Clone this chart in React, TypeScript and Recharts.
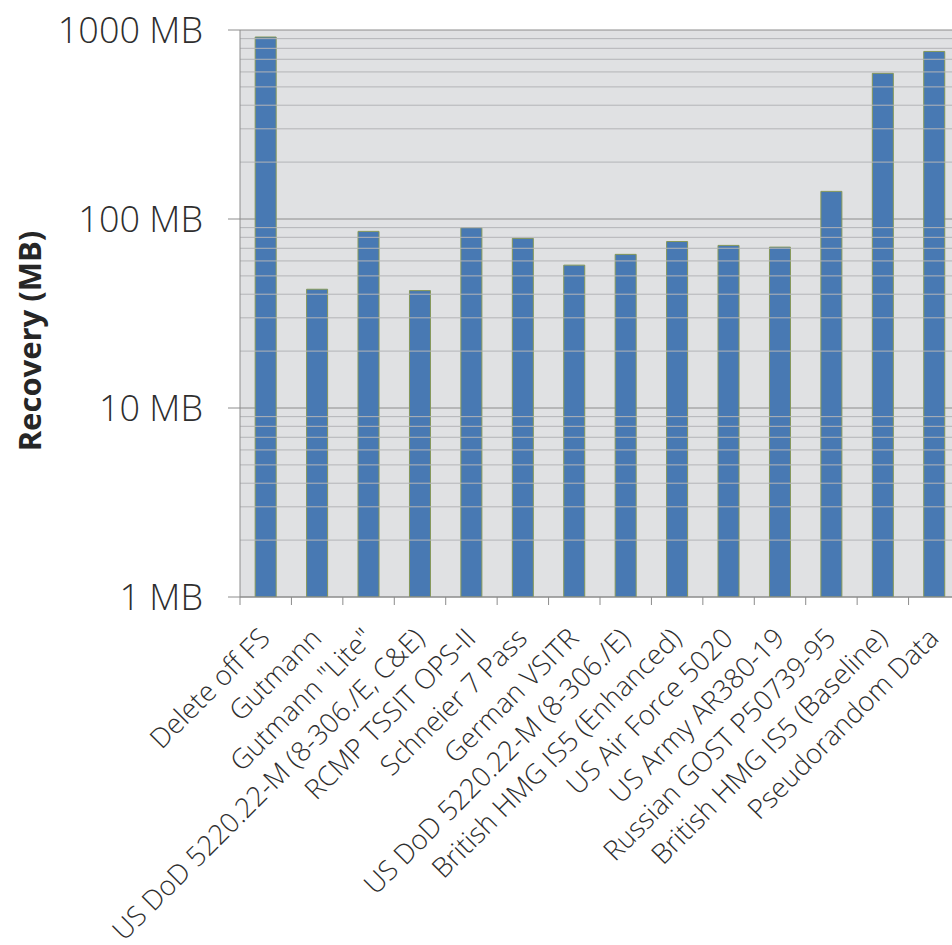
import React from 'react';
import { BarChart, Bar, XAxis, YAxis, CartesianGrid, ReferenceLine } from 'recharts';

// wiping methods and how much data could still be recovered
const methods = [
  'Delete off FS',
  'Gutmann',
  'Gutmann "Lite"',
  'US DoD 5220.22-M (8-306./E, C&E)',
  'RCMP TSSIT OPS-II',
  'Schneier 7 Pass',
  'German VSITR',
  'US DoD 5220.22-M (8-306./E)',
  'British HMG IS5 (Enhanced)',
  'US Air Force 5020',
  'US Army AR380-19',
  'Russian GOST P50739-95',
  'British HMG IS5 (Baseline)',
  'Pseudorandom Data',
];
const recoveryMB = [918, 42.5, 86, 41.8, 90, 79, 57, 65, 76, 72.5, 71, 140, 590, 770];

const majorTicks = [1, 10, 100, 1000];
const minorTicks = [
  2, 3, 4, 5, 6, 7, 8, 9,
  20, 30, 40, 50, 60, 70, 80, 90,
  200, 300, 400, 500, 600, 700, 800, 900,
];

const data = methods.map((name, i) => ({ name, value: recoveryMB[i] }));

const FONT = '"Open Sans", "DejaVu Sans", sans-serif';

const CategoryTick = (props: any) => {
  const { x, y, payload, index, visibleTicksCount } = props;
  const half = payload && payload.offset ? payload.offset : 720 / 14 / 2;
  const last = index === (visibleTicksCount ?? methods.length) - 1;
  return (
    <g>
      <line x1={x - half} y1={y} x2={x - half} y2={y + 8} stroke="#8c8c8c" />
      {last && <line x1={x + half} y1={y} x2={x + half} y2={y + 8} stroke="#8c8c8c" />}
      <text
        x={x + 6}
        y={y + 43}
        textAnchor="end"
        transform={`rotate(-45 ${x + 6} ${y + 43})`}
        fontSize={27.5}
        fontWeight={300}
        fontFamily={FONT}
        fill="#2e2e2e"
      >
        {payload.value}
      </text>
    </g>
  );
};

export default function App() {
  return (
    <div style={{ position: 'absolute', left: 0, top: 0, width: 952, height: 945, overflow: 'hidden', background: '#fff' }}>
      <BarChart
        width={980}
        height={945}
        data={data}
        margin={{ top: 30, right: 20, left: 0, bottom: 0 }}
        barCategoryGap="29.5%"
      >
        <CartesianGrid vertical={false} stroke="#8c8c8c" fill="#e0e1e3" />
        {minorTicks.map((v) => (
          <ReferenceLine key={v} y={v} stroke="#b3b4b7" strokeWidth={1} />
        ))}
        <XAxis
          dataKey="name"
          interval={0}
          height={348}
          tickLine={false}
          tickSize={0}
          tickMargin={0}
          axisLine={{ stroke: '#8c8c8c' }}
          tick={<CategoryTick />}
        />
        <YAxis
          scale="log"
          domain={[1, 1000]}
          ticks={majorTicks}
          allowDataOverflow
          interval={0}
          width={240}
          tickSize={12}
          tickMargin={25}
          axisLine={{ stroke: '#8c8c8c' }}
          tickLine={{ stroke: '#8c8c8c' }}
          tick={{ fontSize: 36, fontWeight: 300, fontFamily: FONT, fill: '#2e2e2e' }}
          tickFormatter={(v: number) => `${v} MB`}
          label={{
            content: () => (
              <text
                x={41}
                y={341}
                transform="rotate(-90 41 341)"
                textAnchor="middle"
                fontSize={31}
                fontWeight="bold"
                fontFamily={FONT}
                fill="#262626"
              >
                Recovery (MB)
              </text>
            ),
          }}
        />
        <Bar dataKey="value" fill="#4879b3" stroke="#869858" strokeWidth={1} isAnimationActive={false} />
      </BarChart>
    </div>
  );
}
